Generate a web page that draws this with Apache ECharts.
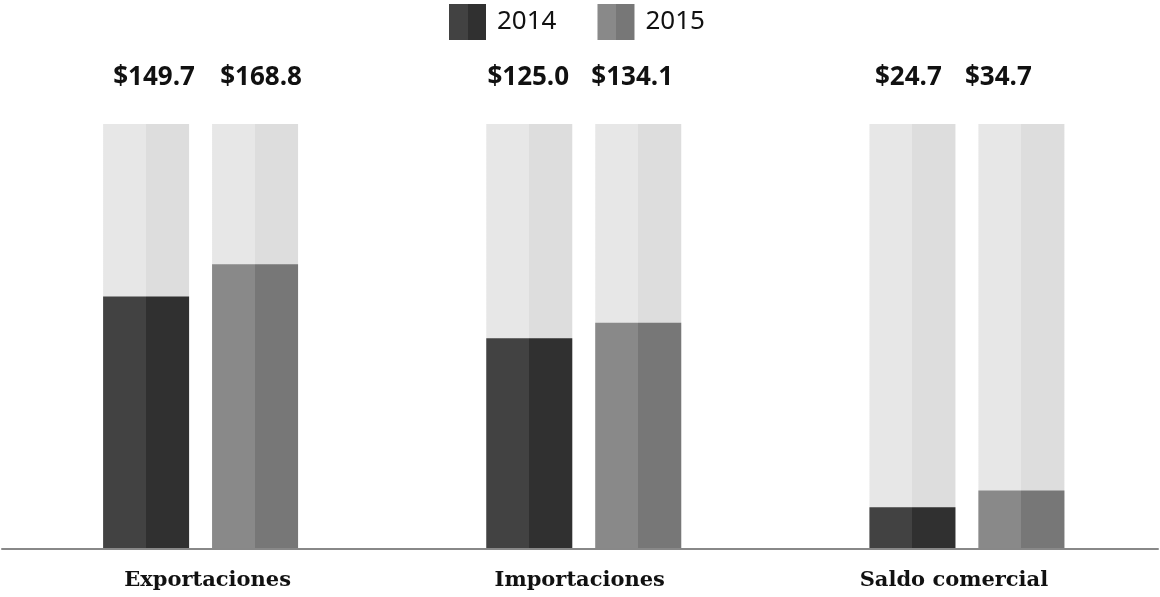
<!DOCTYPE html>
<html><head><meta charset="utf-8">
<script src="https://cdn.jsdelivr.net/npm/echarts@6/dist/echarts.min.js"></script>
<style>html,body{margin:0;padding:0;background:#fff}#c{width:1160px;height:597px}</style>
</head><body><div id="c"></div>
<script>
const categories = ['Exportaciones', 'Importaciones', 'Saldo comercial'];
const values2014 = [149.7, 125.0, 24.7];
const values2015 = [168.8, 134.1, 34.7];
const backgroundMax = [252, 252, 252];
const seriesNames = ['2014', '2015'];

// label placement tweaks (styling only, in px)
const valueLabelShift = [[8, -1, -4], [6, -6, -23]];
const categoryLabelShift = [7, -4, -13];

function split(c1, c2) {
  return {type:'linear', x:0, y:0, x2:1, y2:0, colorStops:[
    {offset:0,color:c1},{offset:0.5,color:c1},{offset:0.5,color:c2},{offset:1,color:c2}]};
}
const bgColor = split('#e7e7e7', '#dddddd');
const c2014 = split('#424242', '#303030');
const c2015 = split('#898989', '#777777');

const valueFont = {fontFamily:'Open Sans', fontWeight:'bold', fontSize:26, lineHeight:26, color:'#111'};

function bgData(idx) {
  return backgroundMax.map((v, i) => ({
    value: v,
    label: {offset: [valueLabelShift[idx][i], 0]}
  }));
}
function catData() {
  return categories.map((c, i) => {
    const s = categoryLabelShift[i];
    return {value: c, textStyle: {padding: s >= 0 ? [0, 0, 0, 2 * s] : [0, -2 * s, 0, 0]}};
  });
}

const chart = echarts.init(document.getElementById('c'));
chart.setOption({
  animation:false,
  legend:{
    top:4, left:449, padding:0, icon:'rect', itemWidth:37, itemHeight:36, itemGap:41,
    textStyle:{fontFamily:'Noto Sans', fontSize:26, color:'#111', padding:[0,0,0,6]},
    data:seriesNames
  },
  grid:[
    {left:9, right:1.5, top:124, bottom:48},
    {left:2, right:2, top:124, bottom:48}
  ],
  xAxis:[
    {type:'category', gridIndex:0, data:catData(),
     axisLine:{show:false}, axisTick:{show:false},
     axisLabel:{margin:21, fontFamily:'DejaVu Serif', fontWeight:'bold', fontSize:21, color:'#111'}},
    {type:'category', gridIndex:0, data:categories, show:false},
    {type:'category', gridIndex:1, data:categories,
     axisLine:{lineStyle:{color:'#888', width:2}}, axisTick:{show:false}, axisLabel:{show:false}, z:5}
  ],
  yAxis:[
    {type:'value', gridIndex:0, min:0, max:252, show:false, splitLine:{show:false}},
    {type:'value', gridIndex:1, min:0, max:252, show:false, splitLine:{show:false}}
  ],
  series:[
    {type:'bar', xAxisIndex:1, yAxisIndex:0, data:bgData(0), barWidth:86, barGap:'26.7%', silent:true,
     itemStyle:{color:bgColor}, z:1,
     label:Object.assign({show:true, position:'top', distance:33,
       formatter: p => '$' + values2014[p.dataIndex].toFixed(1)}, valueFont)},
    {type:'bar', xAxisIndex:1, yAxisIndex:0, data:bgData(1), barWidth:86, barGap:'26.7%', silent:true,
     itemStyle:{color:bgColor}, z:1,
     label:Object.assign({show:true, position:'top', distance:33,
       formatter: p => '$' + values2015[p.dataIndex].toFixed(1)}, valueFont)},
    {name:'2014', type:'bar', xAxisIndex:0, yAxisIndex:0, data:values2014, barWidth:86, barGap:'26.7%',
     itemStyle:{color:c2014}, z:2},
    {name:'2015', type:'bar', xAxisIndex:0, yAxisIndex:0, data:values2015, barWidth:86, barGap:'26.7%',
     itemStyle:{color:c2015}, z:2}
  ]
});
</script></body></html>
